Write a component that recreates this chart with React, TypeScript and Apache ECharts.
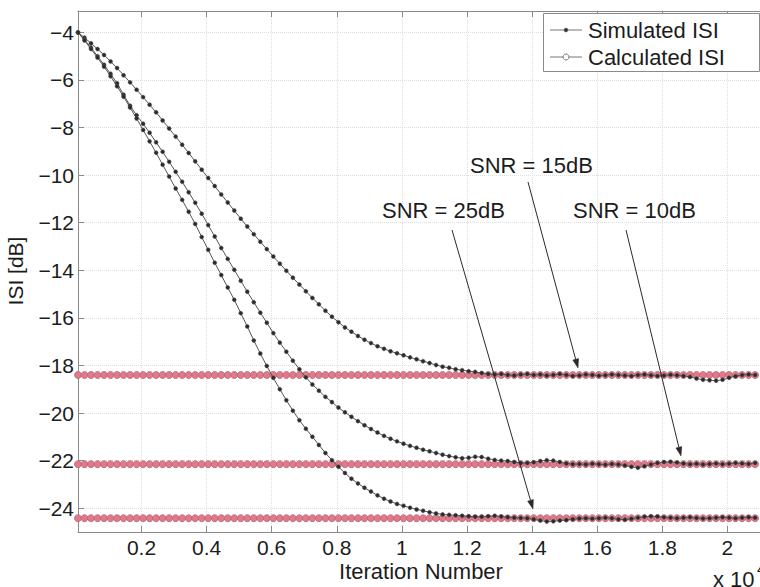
import React, { useEffect, useRef } from "react";
import * as echarts from "echarts";

// Iteration sample positions (x 10^4)
const iterations: number[] = Array.from({ length: 105 }, (_, k) => +(0.005 + 0.02 * k).toFixed(3));

// Simulated ISI [dB] (one value per iteration sample)
const simSNR15: number[] = [
  -4.0, -4.22, -4.46, -4.7, -4.95, -5.22, -5.5, -5.8, -6.1, -6.41,
  -6.72, -7.04, -7.36, -7.7, -8.04, -8.38, -8.72, -9.07, -9.42, -9.77,
  -10.12, -10.46, -10.81, -11.15, -11.49, -11.83, -12.16, -12.48, -12.8, -13.11,
  -13.42, -13.72, -14.02, -14.31, -14.6, -14.88, -15.16, -15.43, -15.7, -15.95,
  -16.18, -16.4, -16.58, -16.76, -16.92, -17.06, -17.19, -17.3, -17.4, -17.49,
  -17.57, -17.66, -17.74, -17.82, -17.9, -17.98, -18.05, -18.1, -18.16, -18.2,
  -18.24, -18.27, -18.32, -18.36, -18.38, -18.36, -18.4, -18.42, -18.38, -18.36,
  -18.4, -18.38, -18.42, -18.4, -18.36, -18.4, -18.44, -18.42, -18.38, -18.4,
  -18.43, -18.41, -18.38, -18.4, -18.42, -18.44, -18.4, -18.38, -18.41, -18.44,
  -18.42, -18.39, -18.41, -18.44, -18.48, -18.55, -18.6, -18.62, -18.64, -18.6,
  -18.52, -18.45, -18.4, -18.38, -18.4,
];
const simSNR10: number[] = [
  -4.0, -4.3, -4.64, -5.0, -5.36, -5.74, -6.14, -6.62, -7.08, -7.48,
  -7.84, -8.22, -8.62, -9.02, -9.44, -9.86, -10.28, -10.72, -11.16, -11.62,
  -12.1, -12.58, -13.06, -13.52, -13.98, -14.44, -14.9, -15.34, -15.78, -16.2,
  -16.64, -17.04, -17.42, -17.8, -18.16, -18.5, -18.8, -19.06, -19.32, -19.54,
  -19.77, -19.97, -20.16, -20.34, -20.51, -20.67, -20.82, -20.96, -21.08, -21.19,
  -21.29, -21.38, -21.46, -21.54, -21.61, -21.68, -21.75, -21.81, -21.86, -21.9,
  -21.88, -21.84, -21.85, -21.92, -21.97, -22.0, -22.02, -22.06, -22.1, -22.1,
  -22.07, -22.02, -21.98, -22.0, -22.06, -22.12, -22.15, -22.14, -22.16, -22.13,
  -22.15, -22.17, -22.14, -22.16, -22.2, -22.26, -22.3, -22.24, -22.16, -22.1,
  -22.06, -22.05, -22.08, -22.12, -22.15, -22.13, -22.16, -22.14, -22.12, -22.15,
  -22.13, -22.1, -22.12, -22.14, -22.1,
];
const simSNR25: number[] = [
  -4.0, -4.34, -4.7, -5.06, -5.44, -5.84, -6.26, -6.7, -7.16, -7.62,
  -8.1, -8.58, -9.06, -9.56, -10.06, -10.56, -11.04, -11.54, -12.05, -12.6,
  -13.14, -13.68, -14.2, -14.72, -15.24, -15.8, -16.36, -16.95, -17.5, -18.02,
  -18.52, -19.0, -19.46, -19.9, -20.3, -20.66, -21.0, -21.34, -21.68, -21.98,
  -22.26, -22.52, -22.76, -22.96, -23.14, -23.3, -23.46, -23.6, -23.72, -23.82,
  -23.9, -23.98, -24.05, -24.11, -24.17, -24.22, -24.26, -24.28, -24.3, -24.32,
  -24.34, -24.36, -24.36, -24.34, -24.32, -24.35, -24.38, -24.4, -24.41, -24.42,
  -24.46, -24.52, -24.56, -24.55, -24.52, -24.5, -24.46, -24.43, -24.42, -24.44,
  -24.42, -24.4, -24.42, -24.46, -24.48, -24.44, -24.4, -24.36, -24.34, -24.35,
  -24.38, -24.4, -24.42, -24.4, -24.38, -24.41, -24.43, -24.42, -24.4, -24.38,
  -24.4, -24.42, -24.4, -24.38, -24.4,
];

// Calculated ISI [dB] (constant per SNR)
const calcSNR15 = -18.4;
const calcSNR10 = -22.15;
const calcSNR25 = -24.42;

// Tick values
const xTicks: number[] = [0.2, 0.4, 0.6, 0.8, 1, 1.2, 1.4, 1.6, 1.8, 2];
const yTicks: number[] = [-24, -22, -20, -18, -16, -14, -12, -10, -8, -6, -4];

const FONT = "'Liberation Sans', Arial, Helvetica, sans-serif";
const TXT = "#1c1c1c";
const AXIS = "#8a8a8a";
const GRID = "#dedede";

function arrow(sx: number, sy: number, tx: number, ty: number) {
  const dx = tx - sx;
  const dy = ty - sy;
  const len = Math.sqrt(dx * dx + dy * dy);
  const ux = dx / len;
  const uy = dy / len;
  const hl = 9;
  const hw = 3;
  const bx = tx - ux * hl;
  const by = ty - uy * hl;
  return [
    {
      type: "line",
      shape: { x1: sx, y1: sy, x2: bx, y2: by },
      style: { stroke: "#2a2a2a", lineWidth: 1 },
      z: 100,
    },
    {
      type: "polygon",
      shape: {
        points: [
          [tx, ty],
          [bx - uy * hw, by + ux * hw],
          [bx + uy * hw, by - ux * hw],
        ],
      },
      style: { fill: "#2a2a2a", stroke: "#2a2a2a", lineWidth: 0.5 },
      z: 100,
    },
  ];
}

export default function App() {
  const ref = useRef<HTMLDivElement>(null);

  useEffect(() => {
    if (!ref.current) return;
    const chart = echarts.init(ref.current, null, { renderer: "svg" });

    const simSeries = (name: string, vals: number[]) => ({
      name,
      type: "line",
      data: iterations.map((x, i) => [x, vals[i]]),
      symbol: "circle",
      symbolSize: 4,
      showSymbol: true,
      lineStyle: { color: "#555555", width: 1 },
      itemStyle: { color: "#2b2b2b", borderColor: "#5a5a5a", borderWidth: 0.5 },
      silent: true,
      z: 3,
    });
    const calcSeries = (name: string, v: number) => ({
      name,
      type: "line",
      data: iterations.map((x) => [x, v]),
      symbol: "circle",
      symbolSize: 7,
      showSymbol: true,
      lineStyle: { color: "#b24d5e", width: 1 },
      itemStyle: { color: "#e3788a", borderColor: "#b06a76", borderWidth: 0.8 },
      silent: true,
      z: 2,
    });

    const axisCommon = {
      type: "value",
      axisLine: { show: true, onZero: false, lineStyle: { color: AXIS, width: 1 } },
    };

    chart.setOption({
      animation: false,
      backgroundColor: "#ffffff",
      textStyle: { fontFamily: FONT },
      grid: { left: 78, top: 11, right: 0, bottom: 55, containLabel: false },
      xAxis: [
        {
          ...axisCommon,
          min: 0.005,
          max: 2.1,
          position: "bottom",
          axisTick: { show: true, inside: true, length: 6, customValues: xTicks, lineStyle: { color: AXIS } },
          axisLabel: {
            show: true,
            customValues: xTicks,
            formatter: (v: number) => String(+v.toFixed(1)),
            fontSize: 21,
            color: TXT,
            fontFamily: FONT,
            margin: 5,
          },
          splitLine: { show: true, lineStyle: { color: GRID, type: "dotted", width: 1 } },
        },
        {
          ...axisCommon,
          min: 0.005,
          max: 2.1,
          position: "top",
          axisTick: { show: true, inside: true, length: 6, customValues: xTicks, lineStyle: { color: AXIS } },
          axisLabel: { show: false },
          splitLine: { show: false },
        },
      ],
      yAxis: [
        {
          ...axisCommon,
          min: -25,
          max: -3.1,
          position: "left",
          axisTick: { show: true, inside: true, length: 6, customValues: yTicks, lineStyle: { color: AXIS } },
          axisLabel: {
            show: true,
            customValues: yTicks,
            formatter: (v: number) => String(v).replace("-", "\u2212"),
            fontSize: 21,
            color: TXT,
            fontFamily: FONT,
            margin: 4,
          },
          splitLine: { show: true, lineStyle: { color: GRID, type: "dotted", width: 1 } },
        },
      ],
      series: [
        calcSeries("Calculated ISI", calcSNR15),
        calcSeries("Calculated ISI", calcSNR10),
        calcSeries("Calculated ISI", calcSNR25),
        simSeries("Simulated ISI", simSNR15),
        simSeries("Simulated ISI", simSNR10),
        simSeries("Simulated ISI", simSNR25),
      ],
      graphic: [
        // legend
        {
          type: "rect",
          shape: { x: 543.5, y: 13.5, width: 216, height: 58 },
          style: { fill: "#ffffff", stroke: "#8a8a8a", lineWidth: 1 },
          z: 90,
        },
        {
          type: "line",
          shape: { x1: 550, y1: 30, x2: 582, y2: 30 },
          style: { stroke: "#777777", lineWidth: 1 },
          z: 91,
        },
        {
          type: "circle",
          shape: { cx: 566, cy: 30, r: 2 },
          style: { fill: "#333333", stroke: "#666666", lineWidth: 0.5 },
          z: 92,
        },
        {
          type: "text",
          x: 588,
          y: 30,
          style: { text: "Simulated ISI", fontSize: 22, fontFamily: FONT, fill: TXT, textVerticalAlign: "middle", textAlign: "left" },
          z: 92,
        },
        {
          type: "line",
          shape: { x1: 550, y1: 57, x2: 582, y2: 57 },
          style: { stroke: "#777777", lineWidth: 1 },
          z: 91,
        },
        {
          type: "circle",
          shape: { cx: 566, cy: 57, r: 3 },
          style: { fill: "#ffffff", stroke: "#777777", lineWidth: 1 },
          z: 92,
        },
        {
          type: "text",
          x: 588,
          y: 57,
          style: { text: "Calculated ISI", fontSize: 22, fontFamily: FONT, fill: TXT, textVerticalAlign: "middle", textAlign: "left" },
          z: 92,
        },
        // annotations
        {
          type: "text",
          x: 470,
          y: 165,
          style: { text: "SNR = 15dB", fontSize: 22, fontFamily: FONT, fill: TXT, textVerticalAlign: "middle", textAlign: "left" },
          z: 100,
        },
        {
          type: "text",
          x: 382,
          y: 210,
          style: { text: "SNR = 25dB", fontSize: 22, fontFamily: FONT, fill: TXT, textVerticalAlign: "middle", textAlign: "left" },
          z: 100,
        },
        {
          type: "text",
          x: 573,
          y: 210,
          style: { text: "SNR = 10dB", fontSize: 22, fontFamily: FONT, fill: TXT, textVerticalAlign: "middle", textAlign: "left" },
          z: 100,
        },
        ...arrow(528, 182, 578, 368),
        ...arrow(452, 230, 533, 509),
        ...arrow(626, 230, 681, 456),
        // axis titles
        {
          type: "text",
          x: 15,
          y: 271,
          rotation: Math.PI / 2,
          style: { text: "ISI [dB]", fontSize: 21, fontFamily: FONT, fill: TXT, textVerticalAlign: "middle", textAlign: "center" },
          z: 100,
        },
        {
          type: "text",
          x: 421,
          y: 571,
          style: { text: "Iteration Number", fontSize: 22, fontFamily: FONT, fill: TXT, textVerticalAlign: "middle", textAlign: "center" },
          z: 100,
        },
        {
          type: "text",
          x: 713,
          y: 579,
          style: { text: "x 10", fontSize: 22, fontFamily: FONT, fill: TXT, textVerticalAlign: "middle", textAlign: "left" },
          z: 100,
        },
        {
          type: "text",
          x: 757,
          y: 568,
          style: { text: "4", fontSize: 15, fontFamily: FONT, fill: TXT, textVerticalAlign: "middle", textAlign: "left" },
          z: 100,
        },
      ],
    });

    return () => chart.dispose();
  }, []);

  return (
    <div
      ref={ref}
      style={{ position: "fixed", left: 0, top: 0, width: 760, height: 587, background: "#fff" }}
    />
  );
}
